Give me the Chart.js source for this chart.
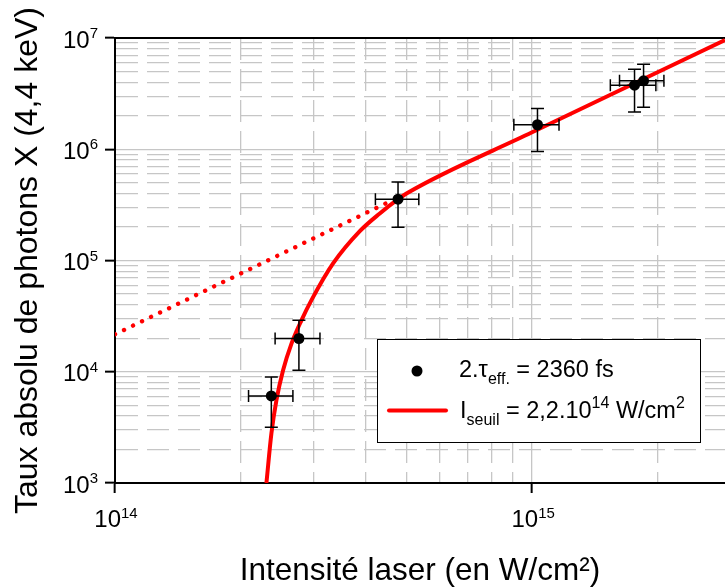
<!DOCTYPE html>
<html>
<head>
<meta charset="utf-8">
<script src="https://cdn.jsdelivr.net/npm/chart.js@4/dist/chart.umd.min.js"></script>
<style>
  html, body { margin: 0; padding: 0; background: #fff; overflow: hidden; }
  canvas { display: block; }
</style>
</head>
<body>
<canvas id="chart" width="725" height="587"></canvas>
<script>
/* global Chart */
// measured points (intensity in W/cm2, absolute photon rate)
const intensity = [2.37e14, 2.76e14, 4.77e14, 1.03e15, 1.76e15, 1.85e15]
const photons = [6.06e3, 1.99e4, 3.56e5, 1.66e6, 3.77e6, 4.12e6]
const intensityLow = [2.09e14, 2.42e14, 4.21e14, 9.04e14, 1.54e15, 1.62e15]
const intensityHigh = [2.67e14, 3.10e14, 5.35e14, 1.16e15, 1.98e15, 2.07e15]
const photonsLow = [3.17e3, 1.03e4, 1.99e5, 9.56e5, 2.16e6, 2.39e6]
const photonsHigh = [8.98e3, 2.90e4, 5.09e5, 2.33e6, 5.25e6, 5.82e6]

// threshold fit
const fitX = [2.307e14, 2.371e14, 2.438e14, 2.529e14, 2.649e14, 2.799e14, 2.958e14, 3.333e14, 3.863e14, 4.313e14, 4.772e14, 4.998e14, 1.0e15, 2.9e15]
const fitY = [1.0e3, 2.78e3, 5.55e3, 1.03e4, 1.79e4, 2.90e4, 4.40e4, 9.40e4, 1.834e5, 2.647e5, 3.557e5, 4.005e5, 1.42e6, 9.57e6]

// power law extension (dotted)
const powerX = [1e14, 4.6e14]
const powerY = [2.17e4, 3.45e5]

// grid / tick values
const xTickValues = [1e14, 2e14, 3e14, 4e14, 5e14, 6e14, 7e14, 8e14, 9e14, 1e15, 2e15]
const yTickValues = [
  1e3, 2e3, 3e3, 4e3, 5e3, 6e3, 7e3, 8e3, 9e3,
  1e4, 2e4, 3e4, 4e4, 5e4, 6e4, 7e4, 8e4, 9e4,
  1e5, 2e5, 3e5, 4e5, 5e5, 6e5, 7e5, 8e5, 9e5,
  1e6, 2e6, 3e6, 4e6, 5e6, 6e6, 7e6, 8e6, 9e6, 1e7
]
const xMajor = [1e14, 1e15]
const xMajorExp = ['14', '15']
const yMajor = [1e3, 1e4, 1e5, 1e6, 1e7]
const yMajorExp = ['3', '4', '5', '6', '7']

const FONT = '"Liberation Sans", Arial, sans-serif'
const GRID = '#c6c6c6'

const isMajor = v => Math.abs(Math.log10(v) - Math.round(Math.log10(v))) < 1e-9

const gridOpts = {
  color: GRID,
  lineWidth: 1.3,
  tickLength: 10,
  tickWidth: 2,
  tickColor: ctx => (ctx.tick && ctx.tick.major) ? '#000' : 'rgba(0,0,0,0)'
}
const borderOpts = {
  display: true,
  color: '#000',
  width: 2,
  dash: ctx => (!ctx.tick || ctx.tick.major) ? [] : [22, 9]
}

// draws "10" with a raised exponent
function drawPow (ctx, exp, x, base, align) {
  ctx.font = '24px ' + FONT
  const w10 = ctx.measureText('10').width
  ctx.font = '15px ' + FONT
  const we = ctx.measureText(exp).width
  let left = x - w10 - we
  if (align === 'center') left = x - (w10 + we) / 2
  ctx.textAlign = 'left'
  ctx.textBaseline = 'alphabetic'
  ctx.font = '24px ' + FONT
  ctx.fillText('10', left, base)
  ctx.font = '15px ' + FONT
  ctx.fillText(exp, left + w10, base - 9.5)
}

// sequence of text pieces with sub / superscripts
function drawRich (ctx, x, base, parts) {
  ctx.textAlign = 'left'
  ctx.textBaseline = 'alphabetic'
  parts.forEach(p => {
    ctx.font = p.size + 'px ' + FONT
    ctx.fillText(p.t, x, base + (p.dy || 0))
    x += ctx.measureText(p.t).width
  })
}

const errorBars = {
  id: 'errorBars',
  afterDatasetsDraw (chart) {
    const { ctx, scales: { x, y } } = chart
    ctx.save()
    ctx.strokeStyle = '#000'
    ctx.lineWidth = 1.5
    intensity.forEach((v, i) => {
      const px = x.getPixelForValue(v)
      const py = y.getPixelForValue(photons[i])
      const xl = x.getPixelForValue(intensityLow[i])
      const xh = x.getPixelForValue(intensityHigh[i])
      const yl = y.getPixelForValue(photonsLow[i])
      const yh = y.getPixelForValue(photonsHigh[i])
      ctx.beginPath()
      ctx.moveTo(xl, py); ctx.lineTo(xh, py)
      ctx.moveTo(xl, py - 6); ctx.lineTo(xl, py + 6)
      ctx.moveTo(xh, py - 6); ctx.lineTo(xh, py + 6)
      ctx.moveTo(px, yl); ctx.lineTo(px, yh)
      ctx.moveTo(px - 6.5, yl); ctx.lineTo(px + 6.5, yl)
      ctx.moveTo(px - 6.5, yh); ctx.lineTo(px + 6.5, yh)
      ctx.stroke()
    })
    ctx.restore()
  }
}

const labelsAndLegend = {
  id: 'labelsAndLegend',
  afterDraw (chart) {
    const { ctx, scales: { x, y } } = chart
    ctx.save()
    ctx.fillStyle = '#000'
    yMajor.forEach((v, i) => {
      const py = y.getPixelForValue(v)
      drawPow(ctx, yMajorExp[i], 98, py + 9.5, 'right')
    })
    xMajor.forEach((v, i) => {
      const px = x.getPixelForValue(v)
      drawPow(ctx, xMajorExp[i], px + 1, 527, 'center')
    })

    // legend box
    ctx.fillStyle = '#fff'
    ctx.fillRect(377.5, 339.5, 323, 103)
    ctx.strokeStyle = '#000'
    ctx.lineWidth = 1
    ctx.strokeRect(377.5, 339.5, 323, 103)

    ctx.fillStyle = '#000'
    ctx.beginPath()
    ctx.arc(417, 371, 5.5, 0, Math.PI * 2)
    ctx.fill()
    drawRich(ctx, 459, 376.5, [
      { t: '2.τ', size: 23.5 },
      { t: 'eff.', size: 16, dy: 7 },
      { t: ' = 2360 fs', size: 23.5 }
    ])

    ctx.strokeStyle = '#ff0000'
    ctx.lineWidth = 4
    ctx.lineCap = 'round'
    ctx.beginPath()
    ctx.moveTo(389, 410.5)
    ctx.lineTo(446, 410.5)
    ctx.stroke()
    drawRich(ctx, 460, 418, [
      { t: 'I', size: 23.5 },
      { t: 'seuil', size: 16, dy: 7 },
      { t: ' = 2,2.10', size: 23.5 },
      { t: '14', size: 16, dy: -10 },
      { t: ' W/cm', size: 23.5 },
      { t: '2', size: 16, dy: -10 }
    ])
    ctx.restore()
  }
}

const config = {
  data: {
    datasets: [
      {
        type: 'scatter',
        label: '2.τeff. = 2360 fs',
        data: intensity.map((v, i) => ({ x: v, y: photons[i] })),
        pointRadius: 5.5,
        pointBackgroundColor: '#000',
        pointBorderWidth: 0,
        order: 0
      },
      {
        type: 'line',
        label: 'Iseuil = 2,2.10^14 W/cm2',
        data: fitX.map((v, i) => ({ x: v, y: fitY[i] })),
        borderColor: '#ff0000',
        borderWidth: 4,
        pointRadius: 0,
        cubicInterpolationMode: 'monotone',
        fill: false,
        order: 1
      },
      {
        type: 'line',
        label: 'power law',
        data: powerX.map((v, i) => ({ x: v, y: powerY[i] })),
        borderColor: '#ff0000',
        borderWidth: 4.4,
        borderDash: [0.01, 10],
        borderCapStyle: 'round',
        pointRadius: 0,
        fill: false,
        order: 2
      }
    ]
  },
  options: {
    responsive: false,
    animation: false,
    devicePixelRatio: 1,
    layout: { autoPadding: false, padding: { top: 38, right: 0, left: 0, bottom: 0 } },
    plugins: {
      legend: { display: false },
      tooltip: { enabled: false }
    },
    scales: {
      x: {
        type: 'logarithmic',
        position: 'bottom',
        min: 1e14,
        max: 2.9e15,
        afterBuildTicks: s => { s.ticks = xTickValues.map(v => ({ value: v, major: isMajor(v) })) },
        afterFit: s => { s.height = 104 },
        ticks: { display: false },
        grid: gridOpts,
        border: borderOpts,
        title: {
          display: true,
          text: 'Intensité laser (en W/cm²)',
          color: '#000',
          font: { family: FONT, size: 31.5, lineHeight: 1 },
          padding: { top: 0, bottom: 0 }
        }
      },
      xTop: {
        type: 'logarithmic',
        position: 'top',
        min: 1e14,
        max: 2.9e15,
        ticks: { display: false },
        grid: { drawOnChartArea: false, drawTicks: false },
        border: { display: true, color: '#000', width: 2 }
      },
      y: {
        type: 'logarithmic',
        position: 'left',
        min: 1e3,
        max: 1e7,
        afterBuildTicks: s => { s.ticks = yTickValues.map(v => ({ value: v, major: isMajor(v) })) },
        afterFit: s => { s.width = 115 },
        ticks: { display: false },
        grid: gridOpts,
        border: borderOpts,
        title: {
          display: true,
          text: 'Taux absolu de photons X (4,4 keV)',
          color: '#000',
          font: { family: FONT, size: 32, lineHeight: 1 },
          padding: { top: 12, bottom: 0 }
        }
      }
    }
  },
  plugins: [errorBars, labelsAndLegend]
}

const myChart = new Chart(document.getElementById('chart'), config)
</script>
</body>
</html>
